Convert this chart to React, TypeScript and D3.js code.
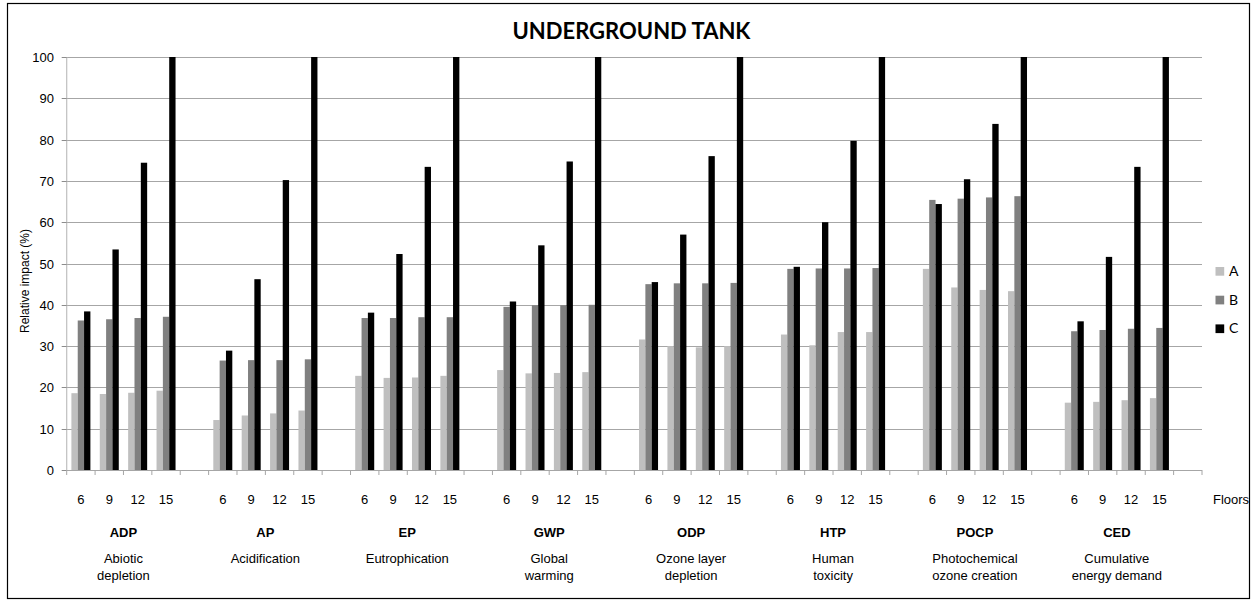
import React, { useEffect, useRef } from "react";
import * as d3 from "d3";

const groups = ["ADP", "AP", "EP", "GWP", "ODP", "HTP", "POCP", "CED"];
const groupNames = [
  ["Abiotic", "depletion"],
  ["Acidification"],
  ["Eutrophication"],
  ["Global", "warming"],
  ["Ozone layer", "depletion"],
  ["Human", "toxicity"],
  ["Photochemical", "ozone creation"],
  ["Cumulative", "energy demand"],
];
const floors = ["6", "9", "12", "15"];
const seriesNames = ["A", "B", "C"];
const seriesColors = ["#bfbfbf", "#808080", "#000000"];

// values per group, 4 floors each
const valuesA = [
  18.6, 18.4, 18.7, 19.2,
  12.1, 13.2, 13.7, 14.4,
  22.8, 22.3, 22.4, 22.8,
  24.2, 23.4, 23.5, 23.7,
  31.6, 30.0, 29.7, 30.0,
  32.8, 30.2, 33.4, 33.4,
  48.7, 44.2, 43.6, 43.3,
  16.3, 16.5, 16.9, 17.4,
];
const valuesB = [
  36.2, 36.5, 36.8, 37.1,
  26.5, 26.6, 26.6, 26.8,
  36.8, 36.8, 37.0, 37.0,
  39.5, 39.9, 39.9, 40.0,
  45.0, 45.2, 45.2, 45.3,
  48.7, 48.8, 48.8, 48.9,
  65.4, 65.7, 66.0, 66.3,
  33.6, 33.9, 34.2, 34.4,
];
const valuesC = [
  38.4, 53.4, 74.4, 100,
  28.9, 46.2, 70.2, 100,
  38.1, 52.3, 73.4, 100,
  40.8, 54.4, 74.7, 100,
  45.5, 57.0, 76.0, 100,
  49.2, 60.0, 79.7, 100,
  64.4, 70.4, 83.8, 100,
  36.0, 51.6, 73.4, 100,
];
const yTicks = [0, 10, 20, 30, 40, 50, 60, 70, 80, 90, 100];

export default function App() {
  const ref = useRef<SVGSVGElement | null>(null);

  useEffect(() => {
    const svg = d3.select(ref.current);
    svg.selectAll("*").remove();

    const left = 66.7, right = 1202, top = 57, bottom = 470;
    const font = "'Liberation Sans', Arial, sans-serif";

    // frame
    svg.append("rect").attr("x", 7.5).attr("y", 3.5).attr("width", 1242).attr("height", 595)
      .attr("fill", "#fff").attr("stroke", "#000").attr("stroke-width", 1.2);

    // slots: 4 floors + 1 empty per group
    const slots: { key: string; gi: number; fi: number }[] = [];
    groups.forEach((g, gi) => {
      for (let fi = 0; fi < 5; fi++) slots.push({ key: `${gi}-${fi}`, gi, fi });
    });
    const x = d3.scaleBand<string>().domain(slots.map((s) => s.key)).range([left, right]).padding(0);
    const bw = x.bandwidth();
    const inner = d3.scaleBand<string>().domain(seriesNames).range([bw / 2 - 9.5, bw / 2 + 9.5]).padding(0);
    const y = d3.scaleLinear().domain([0, 100]).range([bottom, top]);

    // gridlines
    svg.append("g").selectAll("line").data(yTicks.filter((t) => t > 0)).join("line")
      .attr("x1", left).attr("x2", right)
      .attr("y1", (d) => Math.round(y(d)) + 0.5).attr("y2", (d) => Math.round(y(d)) + 0.5)
      .attr("stroke", "#a6a6a6").attr("stroke-width", 1);

    // y axis
    svg.append("line").attr("x1", left).attr("x2", left).attr("y1", top).attr("y2", bottom)
      .attr("stroke", "#bfbfbf").attr("stroke-width", 1.2);
    const yl = svg.append("g");
    yTicks.forEach((t) => {
      const yy = Math.round(y(t)) + 0.5;
      yl.append("line").attr("x1", left - 5).attr("x2", left).attr("y1", yy).attr("y2", yy)
        .attr("stroke", "#8c8c8c");
      yl.append("text").attr("x", 54).attr("y", yy + 4.5).attr("text-anchor", "end")
        .attr("font-family", font).attr("font-size", 13).attr("fill", "#000").text(String(t));
    });

    // bars
    const allVals = [valuesA, valuesB, valuesC];
    const barG = svg.append("g");
    slots.forEach((s) => {
      if (s.fi > 3) return;
      const idx = s.gi * 4 + s.fi;
      seriesNames.forEach((sn, si) => {
        const v = allVals[si][idx];
        barG.append("rect")
          .attr("x", (x(s.key) as number) + (inner(sn) as number))
          .attr("y", y(v))
          .attr("width", inner.bandwidth())
          .attr("height", y(0) - y(v))
          .attr("fill", seriesColors[si]);
      });
    });

    // x axis
    svg.append("line").attr("x1", left).attr("x2", right).attr("y1", bottom + 0.5).attr("y2", bottom + 0.5)
      .attr("stroke", "#a6a6a6").attr("stroke-width", 1.2);
    const xt = svg.append("g");
    const bounds = slots.map((s) => x(s.key) as number).concat([right]);
    bounds.forEach((b) => {
      xt.append("line").attr("x1", b).attr("x2", b).attr("y1", bottom).attr("y2", bottom + 5)
        .attr("stroke", "#a6a6a6");
    });
    slots.forEach((s) => {
      if (s.fi > 3) return;
      xt.append("text").attr("x", (x(s.key) as number) + bw / 2).attr("y", 504)
        .attr("text-anchor", "middle").attr("font-family", font).attr("font-size", 13)
        .text(floors[s.fi]);
    });

    // group labels
    groups.forEach((g, gi) => {
      const cx = (x(`${gi}-0`) as number) + 2 * bw;
      xt.append("text").attr("x", cx).attr("y", 537).attr("text-anchor", "middle")
        .attr("font-family", font).attr("font-size", 13).attr("font-weight", "bold").text(g);
      groupNames[gi].forEach((line, li) => {
        xt.append("text").attr("x", cx).attr("y", 563 + li * 17).attr("text-anchor", "middle")
          .attr("font-family", font).attr("font-size", 13).text(line);
      });
    });

    // Floors label
    svg.append("text").attr("x", 1213).attr("y", 504).attr("font-family", font).attr("font-size", 13)
      .text("Floors");

    // y title
    svg.append("text").attr("transform", "translate(29,281) rotate(-90)").attr("text-anchor", "middle")
      .attr("font-family", font).attr("font-size", 12).text("Relative impact (%)");

    // title
    svg.append("text").attr("x", 631.5).attr("y", 39).attr("text-anchor", "middle")
      .attr("font-family", "Lato, 'Open Sans', sans-serif").attr("font-weight", "bold").attr("font-size", 22)
      .text("UNDERGROUND TANK");

    // legend
    const lg = svg.append("g");
    seriesNames.forEach((sn, si) => {
      const yy = 267 + si * 28.7;
      lg.append("rect").attr("x", 1215.5).attr("y", yy).attr("width", 8.7).attr("height", 8.7)
        .attr("fill", seriesColors[si]);
      lg.append("text").attr("x", 1229).attr("y", yy + 9).attr("font-family", "Lato, 'Open Sans', sans-serif")
        .attr("font-size", 14).text(sn);
    });
  }, []);

  return (
    <div style={{ position: "absolute", left: 0, top: 0 }}>
      <svg ref={ref} width={1257} height={600} style={{ display: "block" }} />
    </div>
  );
}
